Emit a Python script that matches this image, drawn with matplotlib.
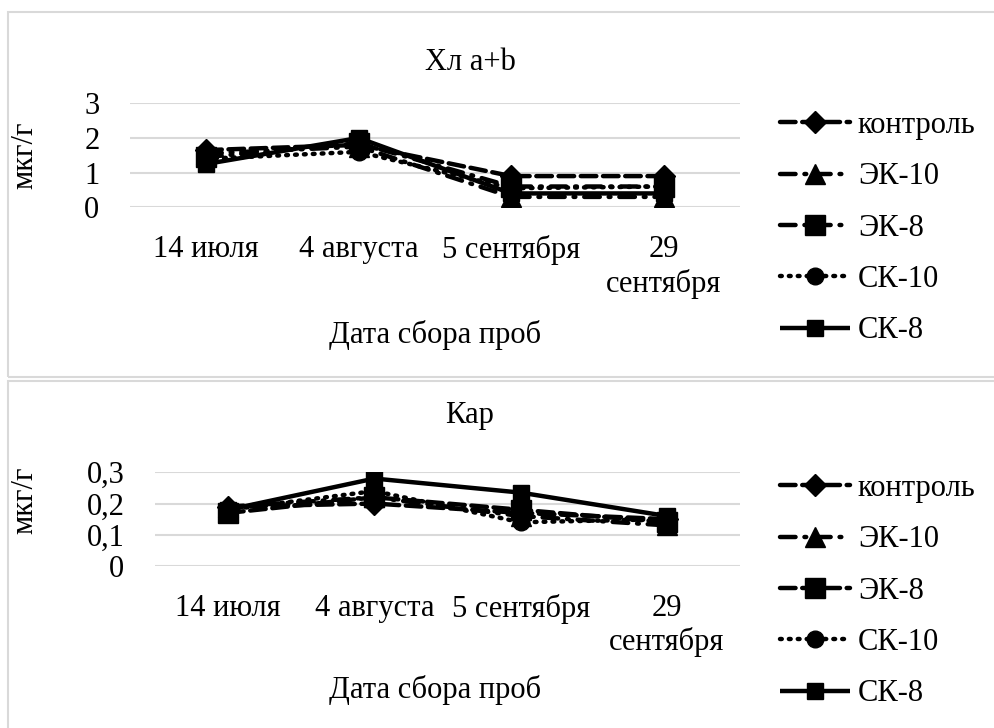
import matplotlib
matplotlib.use("Agg")
import matplotlib.pyplot as plt
from matplotlib.patches import Rectangle

plt.rcParams['font.family'] = ['Liberation Serif', 'DejaVu Serif']

dates = ['14 июля', '4 августа', '5 сентября', '29\nсентября']
series = ['контроль', 'ЭК-10', 'ЭК-8', 'СК-10', 'СК-8']

# chlorophyll a+b, mcg/g
chl_control = [1.65, 1.8, 0.9, 0.9]
chl_ek10 = [1.55, 1.75, 0.3, 0.3]
chl_ek8 = [1.45, 1.85, 0.6, 0.6]
chl_sk10 = [1.4, 1.6, 0.55, 0.6]
chl_sk8 = [1.25, 2.0, 0.4, 0.4]

# carotenoids, mcg/g
car_control = [0.19, 0.20, 0.17, 0.15]
car_ek10 = [0.19, 0.22, 0.16, 0.13]
car_ek8 = [0.17, 0.22, 0.18, 0.14]
car_sk10 = [0.18, 0.24, 0.14, 0.15]
car_sk8 = [0.18, 0.28, 0.235, 0.16]

W, H = 995, 728
FS = 22
fig = plt.figure(figsize=(W / 100, H / 100), dpi=100)

# panel frames
for (x0, y0, x1, y1) in [(8, 12, 1000, 377), (8, 381, 1000, 735)]:
    fig.patches.append(Rectangle((x0 / W, 1 - y1 / H), (x1 - x0) / W, (y1 - y0) / H,
                                 transform=fig.transFigure, fill=False,
                                 edgecolor='#d9d9d9', linewidth=1.5))

styles = {
    'контроль': dict(ls=(0, (3.5, 1.5)), marker='D', ms=11),
    'ЭК-10': dict(ls=(0, (3.5, 2, 0.4, 2)), marker='^', ms=14),
    'ЭК-8': dict(ls=(0, (3.5, 2, 0.4, 2)), marker='s', ms=14),
    'СК-10': dict(ls=(0, (0.4, 1.6)), marker='o', ms=12),
    'СК-8': dict(ls='-', marker='s', ms=12),
}


def draw(ax, data, ylim, yticks, yticklabels, title, title_y, ek8_ls,
         legend_y, ylabel_y, xlabel_y):
    x = range(len(dates))
    lines = []
    for name, vals in zip(series, data):
        st = dict(styles[name])
        if name == 'ЭК-8':
            st['ls'] = ek8_ls
        ln, = ax.plot(x, vals, color='black', lw=3.2, linestyle=st['ls'],
                      marker=st['marker'], markersize=st['ms'],
                      dash_capstyle='round', solid_capstyle='butt', label=name)
        lines.append(ln)
    ax.set_xlim(-0.5, len(dates) - 0.5)
    ax.set_ylim(*ylim)
    ax.set_yticks(yticks)
    ax.set_yticklabels(yticklabels)
    ax.set_xticks(list(x))
    ax.set_xticklabels(dates)
    ax.grid(axis='y', color='#d9d9d9', lw=1.5)
    ax.set_axisbelow(True)
    for s in ax.spines.values():
        s.set_visible(False)
    ax.tick_params(length=0, labelsize=FS)
    ax.tick_params(axis='y', pad=22)
    ax.tick_params(axis='x', pad=20)
    ax.set_xlabel('Дата сбора проб', fontsize=FS)
    ax.xaxis.set_label_coords(435 / W, 1 - xlabel_y / H, transform=fig.transFigure)
    ax.xaxis.label.set_va('center')
    ax.set_ylabel('мкг/г', fontsize=FS)
    ax.yaxis.set_label_coords(25 / W, 1 - ylabel_y / H, transform=fig.transFigure)
    ax.yaxis.label.set_va('center')
    fig.text(470 / W, 1 - title_y / H, title, fontsize=FS, ha='center', va='center')
    fig.legend(handles=lines, loc='upper left', bbox_to_anchor=(780 / W, 1 - legend_y / H),
               frameon=False, fontsize=FS, handlelength=2.3, handletextpad=0.25,
               labelspacing=0.73, borderpad=0, borderaxespad=0)


ax1 = fig.add_axes([130 / W, 1 - 207.3 / H, 610 / W, 104 / H])
draw(ax1, [chl_control, chl_ek10, chl_ek8, chl_sk10, chl_sk8],
     (0, 3), [0, 1, 2, 3], ['0', '1', '2', '3'], 'Хл а+b', 62,
     (0, (3.5, 2, 0.4, 2)), 111, 155, 335)

ax2 = fig.add_axes([155 / W, 1 - 566 / H, 585 / W, 93.7 / H])
draw(ax2, [car_control, car_ek10, car_ek8, car_sk10, car_sk8],
     (0, 0.3), [0, 0.1, 0.2, 0.3], ['0', '0,1', '0,2', '0,3'], 'Кар', 415,
     (0, (3.5, 1.5)), 474, 500, 690)

fig.savefig('out.png', dpi=100)
